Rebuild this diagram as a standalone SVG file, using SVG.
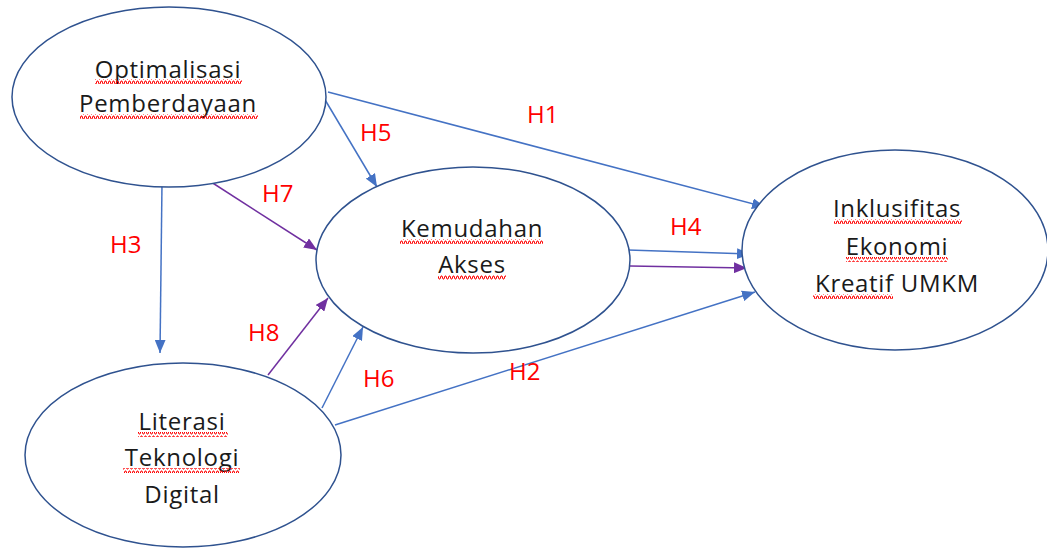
<svg xmlns="http://www.w3.org/2000/svg" width="1047" height="548" viewBox="0 0 1047 548">
<style>
.node{fill:#fff;stroke:#2F528F;stroke-width:1.5}
.t{font-family:"Open Sans","Noto Sans",sans-serif;font-size:24px;letter-spacing:0.7px;fill:#1a1a1a;text-anchor:middle}
.h{font-family:"Open Sans","Noto Sans",sans-serif;font-size:24px;fill:#ff0000}
.b{stroke:#4472C4;stroke-width:1.5;fill:none;marker-end:url(#ab)}
.p{stroke:#7030A0;stroke-width:1.5;fill:none;marker-end:url(#ap)}
.sq{fill:url(#wave)}
</style>
<defs>
<marker id="ab" viewBox="0 0 12 10" refX="12" refY="5" markerWidth="13" markerHeight="11" markerUnits="userSpaceOnUse" orient="auto"><path d="M0,0 L12,5 L0,10 z" fill="#4472C4"/></marker>
<marker id="ap" viewBox="0 0 12 10" refX="12" refY="5" markerWidth="13" markerHeight="11" markerUnits="userSpaceOnUse" orient="auto"><path d="M0,0 L12,5 L0,10 z" fill="#7030A0"/></marker>
<pattern id="wave" width="4" height="5" patternUnits="userSpaceOnUse"><polyline points="0,4 1,1 2,1 3,4 4,4" fill="none" stroke="#ff0000" stroke-width="1"/></pattern>
</defs>
<rect width="1047" height="548" fill="#fff"/>
<g id="connectors">
<line class="b" x1="328" y1="92" x2="765" y2="207"/>
<line class="b" x1="321" y1="93" x2="377" y2="187"/>
<line class="b" x1="162" y1="183" x2="160" y2="353"/>
<line class="p" x1="208" y1="180" x2="317" y2="250"/>
<line class="b" x1="628" y1="250" x2="750" y2="254"/>
<line class="p" x1="630" y1="266" x2="747" y2="268"/>
<line class="b" x1="335" y1="425" x2="755" y2="292"/>
<line class="b" x1="322" y1="408" x2="363" y2="327"/>
<line class="p" x1="268" y1="375" x2="328" y2="298"/>
</g>
<g id="node-optimalisasi">
<ellipse class="node" cx="169" cy="97" rx="157" ry="90"/>
<text class="t" x="168" y="78">Optimalisasi</text>
<text class="t" x="168" y="112">Pemberdayaan</text>
<rect class="sq" x="95" y="79" width="147" height="5"/>
<rect class="sq" x="80" y="114" width="178" height="5"/>
</g>
<g id="node-kemudahan">
<ellipse class="node" cx="473" cy="260" rx="157" ry="93"/>
<text class="t" x="472" y="237">Kemudahan</text>
<text class="t" x="472" y="273">Akses</text>
<rect class="sq" x="400" y="239" width="143" height="5"/>
<rect class="sq" x="438" y="275" width="68" height="5"/>
</g>
<g id="node-inklusifitas">
<ellipse class="node" cx="895" cy="250" rx="153" ry="100"/>
<text class="t" x="897" y="217">Inklusifitas</text>
<text class="t" x="897" y="255">Ekonomi</text>
<text class="t" x="897" y="292">Kreatif UMKM</text>
<rect class="sq" x="834" y="219" width="128" height="5"/>
<rect class="sq" x="846" y="257" width="102" height="5"/>
<rect class="sq" x="813" y="294" width="80" height="5"/>
</g>
<g id="node-literasi">
<ellipse class="node" cx="183" cy="455" rx="158" ry="92"/>
<text class="t" x="182" y="430">Literasi</text>
<text class="t" x="182" y="466">Teknologi</text>
<text class="t" x="182" y="503">Digital</text>
<rect class="sq" x="138" y="432" width="90" height="5"/>
<rect class="sq" x="123" y="468" width="117" height="5"/>
</g>
<g id="labels">
<text class="h" x="527" y="123">H1</text>
<text class="h" x="360" y="141">H5</text>
<text class="h" x="670" y="235">H4</text>
<text class="h" x="262" y="202">H7</text>
<text class="h" x="110" y="253">H3</text>
<text class="h" x="248" y="341">H8</text>
<text class="h" x="363" y="387">H6</text>
<text class="h" x="509" y="380">H2</text>
</g>
</svg>
